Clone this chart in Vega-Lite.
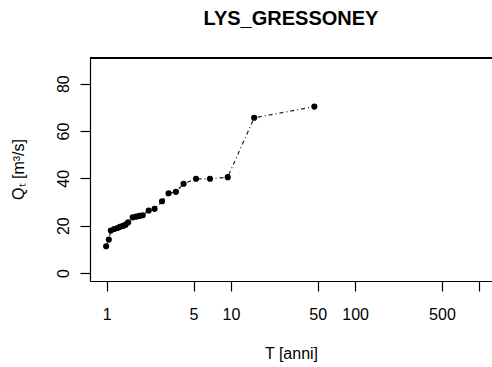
{
  "$schema": "https://vega.github.io/schema/vega-lite/v6.json",
  "autosize": "none",
  "width": 402,
  "height": 223,
  "padding": {"left": 90, "top": 58, "right": 0, "bottom": 86},
  "background": "white",
  "config": {
    "view": {"stroke": null},
    "font": "Liberation Sans"
  },
  "title": {
    "text": "LYS_GRESSONEY",
    "font": "Liberation Sans",
    "fontSize": 20,
    "fontWeight": "bold",
    "color": "black",
    "baseline": "alphabetic",
    "offset": 12,
    "anchor": "middle"
  },
  "data": {
    "values": [
      {"T": 0.99, "Q": 11.3},
      {"T": 1.04, "Q": 14.1},
      {"T": 1.08, "Q": 17.9},
      {"T": 1.15, "Q": 18.6},
      {"T": 1.22, "Q": 19.0},
      {"T": 1.28, "Q": 19.5},
      {"T": 1.35, "Q": 19.9},
      {"T": 1.42, "Q": 20.4},
      {"T": 1.49, "Q": 21.4},
      {"T": 1.62, "Q": 23.5},
      {"T": 1.72, "Q": 23.8},
      {"T": 1.83, "Q": 24.1},
      {"T": 1.95, "Q": 24.4},
      {"T": 2.18, "Q": 26.4},
      {"T": 2.43, "Q": 27.1},
      {"T": 2.79, "Q": 30.3},
      {"T": 3.15, "Q": 33.7},
      {"T": 3.61, "Q": 34.3},
      {"T": 4.16, "Q": 37.7},
      {"T": 5.24, "Q": 39.8},
      {"T": 6.79, "Q": 39.8},
      {"T": 9.43, "Q": 40.5},
      {"T": 15.4, "Q": 65.6},
      {"T": 47.0, "Q": 70.3}
    ]
  },
  "layer": [
    {
      "mark": {"type": "line", "color": "#222222", "strokeWidth": 1.2, "strokeDash": [4, 3, 1, 3]},
      "encoding": {
        "x": {
          "field": "T",
          "type": "quantitative",
          "scale": {"type": "log", "domain": [0.734, 1265], "nice": false},
          "axis": {
            "title": "T [anni]",
            "values": [1, 5, 10, 50, 100, 500, 1000],
            "labelExpr": "datum.value == 1000 ? '' : format(datum.value, 'd')",
            "grid": false,
            "domain": true,
            "domainColor": "black",
            "domainWidth": 1.2,
            "tickSize": 10,
            "tickColor": "black",
            "tickWidth": 1.2,
            "labelPadding": 15,
            "labelFontSize": 16,
            "labelColor": "black",
            "labelFlush": false,
            "labelOverlap": false,
            "titleFontSize": 16,
            "titleFontWeight": "normal",
            "titleColor": "black",
            "titleBaseline": "middle",
            "titleY": 72
          }
        },
        "y": {
          "field": "Q",
          "type": "quantitative",
          "scale": {"domain": [-3.39, 90.84], "nice": false, "zero": false},
          "axis": {
            "title": "Qₜ [m³/s]",
            "values": [0, 20, 40, 60, 80],
            "grid": false,
            "domain": true,
            "domainColor": "black",
            "domainWidth": 1.2,
            "tickSize": 10,
            "tickColor": "black",
            "tickWidth": 1.2,
            "labelAngle": -90,
            "labelAlign": "center",
            "labelBaseline": "middle",
            "labelPadding": 17,
            "labelFontSize": 16,
            "labelColor": "black",
            "labelFlush": false,
            "labelOverlap": false,
            "titleFontSize": 16,
            "titleFontWeight": "normal",
            "titleColor": "black",
            "titleAngle": -90,
            "titleAlign": "center",
            "titleBaseline": "middle",
            "titleX": -72,
            "titleY": 111
          }
        }
      }
    },
    {
      "mark": {"type": "circle", "color": "black", "opacity": 1, "size": 38},
      "encoding": {
        "x": {"field": "T", "type": "quantitative"},
        "y": {"field": "Q", "type": "quantitative"}
      }
    },
    {
      "mark": {"type": "rule", "color": "black", "strokeWidth": 1.2},
      "encoding": {
        "y": {"datum": 90.84, "type": "quantitative"}
      }
    }
  ]
}
